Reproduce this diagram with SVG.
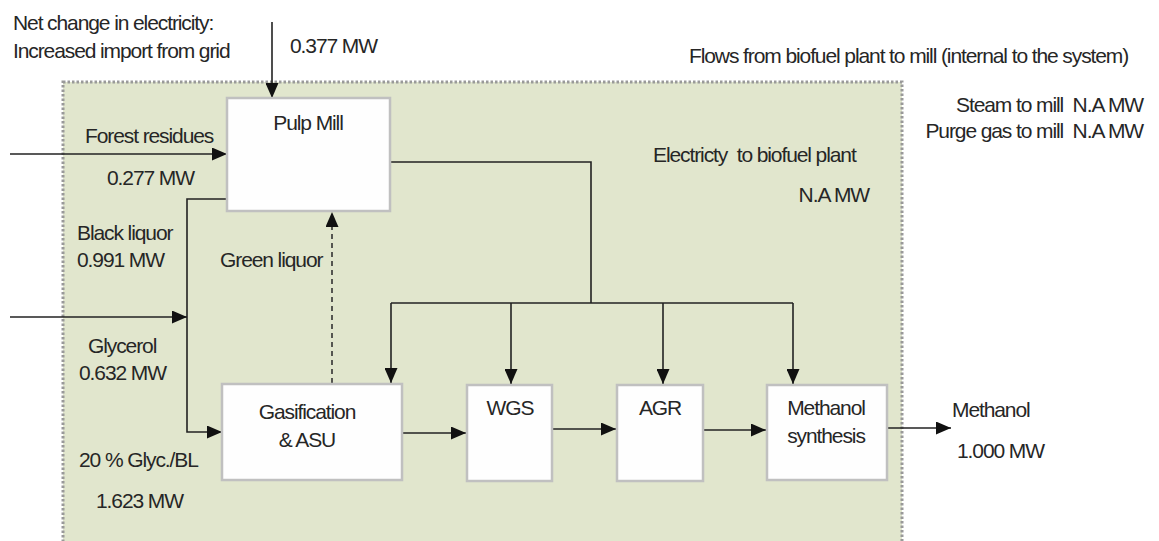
<svg xmlns="http://www.w3.org/2000/svg" width="1159" height="541" viewBox="0 0 1159 541">
<defs>
<marker id="ah" viewBox="0 0 15 13" refX="15" refY="6.5" markerWidth="15" markerHeight="13" markerUnits="userSpaceOnUse" orient="auto">
<path d="M0,0 L15,6.5 L0,13 Z" fill="#111"/>
</marker>
</defs>
<style>
text{font-family:"Liberation Sans",Arial,sans-serif;font-size:21px;letter-spacing:-1.1px;fill:#262626}
.mid{text-anchor:middle}
.end{text-anchor:end}
.box{fill:#fefefe;stroke:#c0c0c0;stroke-width:2.5}
.ln{fill:none;stroke:#222;stroke-width:1.6}
.arr{fill:none;stroke:#222;stroke-width:1.6;marker-end:url(#ah)}
.dash{fill:none;stroke:#333;stroke-width:1.6;stroke-dasharray:5,4;marker-end:url(#ah)}
</style>
<rect id="boundary" x="63" y="82" width="839" height="480" fill="#e1e6cd" stroke="#999" stroke-width="3" stroke-dasharray="2.5,2"/>

<g id="connectors">
<line class="arr" x1="272" y1="22" x2="272" y2="98"/>
<line class="arr" x1="10" y1="154" x2="227" y2="154"/>
<polyline class="arr" points="227,199 187,199 187,432 222,432"/>
<line class="arr" x1="10" y1="317" x2="187" y2="317"/>
<line class="dash" x1="332" y1="383" x2="332" y2="212"/>
<polyline class="ln" points="390,162 591,162 591,303"/>
<line class="ln" x1="391" y1="303" x2="793" y2="303"/>
<line class="arr" x1="391" y1="303" x2="391" y2="383"/>
<line class="arr" x1="511" y1="303" x2="511" y2="384"/>
<line class="arr" x1="663" y1="303" x2="663" y2="384"/>
<line class="arr" x1="793" y1="303" x2="793" y2="384"/>
<line class="arr" x1="402" y1="433" x2="466" y2="433"/>
<line class="arr" x1="552" y1="429" x2="616" y2="429"/>
<line class="arr" x1="703" y1="430" x2="766" y2="430"/>
<line class="arr" x1="887" y1="428" x2="951" y2="428"/>
</g>

<g id="pulp-mill">
<rect class="box" x="227" y="98" width="163" height="113"/>
<text class="mid" x="308" y="130">Pulp Mill</text>
</g>
<g id="gasification">
<rect class="box" x="222" y="384" width="180" height="96"/>
<text class="mid" x="307" y="419">Gasification</text>
<text class="mid" x="307" y="447">&amp; ASU</text>
</g>
<g id="wgs">
<rect class="box" x="467" y="385" width="85" height="96"/>
<text class="mid" x="510" y="415">WGS</text>
</g>
<g id="agr">
<rect class="box" x="617" y="385" width="86" height="96"/>
<text class="mid" x="660" y="415">AGR</text>
</g>
<g id="methanol-synthesis">
<rect class="box" x="767" y="385" width="120" height="95"/>
<text class="mid" x="826" y="415">Methanol</text>
<text class="mid" x="826" y="443">synthesis</text>
</g>

<g id="labels">
<text x="13" y="30">Net change in electricity:</text>
<text x="13" y="58">Increased import from grid</text>
<text x="290" y="53">0.377 MW</text>
<text x="85" y="143">Forest residues</text>
<text x="107" y="185">0.277 MW</text>
<text x="77" y="240">Black liquor</text>
<text x="77" y="267">0.991 MW</text>
<text x="220" y="267">Green liquor</text>
<text x="88" y="353">Glycerol</text>
<text x="79" y="380">0.632 MW</text>
<text x="79" y="467">20 % Glyc./BL</text>
<text x="96" y="508">1.623 MW</text>
<text x="952" y="417">Methanol</text>
<text x="957" y="458">1.000 MW</text>
<text x="689" y="63">Flows from biofuel plant to mill (internal to the system)</text>
<text class="end" x="1143" y="112" xml:space="preserve">Steam to mill  N.A MW</text>
<text class="end" x="1143" y="138" xml:space="preserve">Purge gas to mill  N.A MW</text>
<text x="653" y="162" xml:space="preserve">Electricty  to biofuel plant</text>
<text class="end" x="869" y="202">N.A MW</text>
</g>
</svg>
